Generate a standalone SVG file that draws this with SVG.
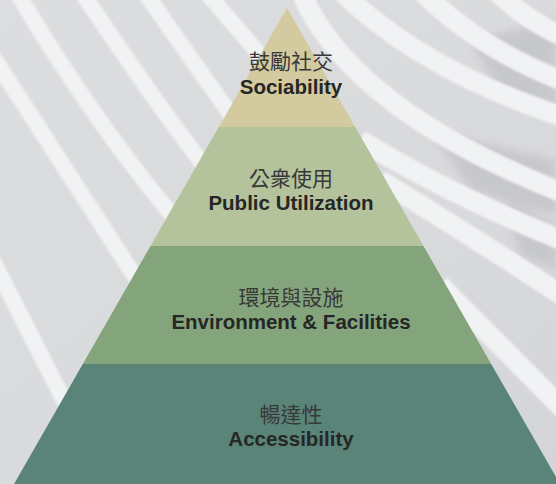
<svg xmlns="http://www.w3.org/2000/svg" width="556" height="484" viewBox="0 0 556 484">
  <defs>
    <linearGradient id="bg" x1="0" y1="0" x2="1" y2="1">
      <stop offset="0" stop-color="#dcdddf"/>
      <stop offset="0.6" stop-color="#d9dadc"/>
      <stop offset="1" stop-color="#d4d5d8"/>
    </linearGradient>
    <filter id="soft" x="-10%" y="-10%" width="120%" height="120%">
      <feGaussianBlur stdDeviation="1.2"/>
    </filter>
    <filter id="softer" x="-20%" y="-20%" width="140%" height="140%">
      <feGaussianBlur stdDeviation="4"/>
    </filter>
  </defs>
  <style>
    .stripe { fill: none; stroke: #f1f2f3; stroke-width: 16; stroke-linecap: butt; }
    .wide { stroke-width: 20; }
    .zh { font-family: "Noto Sans CJK TC", "Noto Sans CJK SC", sans-serif; font-size: 21px; fill: #383838; text-anchor: middle; }
    .en { font-family: "Liberation Sans", Arial, sans-serif; font-size: 20.5px; font-weight: bold; fill: #262626; text-anchor: middle; }
  </style>

  <g id="background">
    <rect x="0" y="0" width="556" height="484" fill="url(#bg)"/>
    <g filter="url(#softer)" fill="#c3c4c7" opacity="0.8">
      <path d="M470 40 L556 20 L556 110 L500 95 Z"/>
      <path d="M430 130 L556 160 L556 215 L470 190 Z"/>
      <path d="M505 200 L556 225 L556 270 L520 255 Z"/>
    </g>
    <g filter="url(#soft)">
      <path class="stripe" d="M-10 255 L80 432"/>
      <path class="stripe" d="M-10 52 L150 300"/>
      <path class="stripe" d="M10 -19 Q100 133.5 190 236"/>
      <path class="stripe" d="M75 -18 Q155 103 215 180"/>
      <path class="stripe" d="M138 -17 L245 135"/>
      <path class="stripe" d="M200 -15 L290 90"/>
      <path class="stripe wide" d="M300 -10 Q350 110 566 194"/>
      <path class="stripe wide" d="M340 -10 Q420 70 566 118"/>
      <path class="stripe wide" d="M420 -10 Q480 50 566 82"/>
      <path class="stripe wide" d="M495 -10 Q525 20 566 38"/>
      <path class="stripe wide" d="M360 140 Q450 195 566 242"/>
      <path class="stripe wide" d="M380 180 Q470 235 566 298"/>
      <path class="stripe wide" d="M440 285 L566 412"/>
    </g>
  </g>

  <g id="layer-sociability">
    <polygon points="287,8 355.2,127 218.8,127" fill="#d3cb9f"/>
    <text class="zh" x="291" y="68.5">鼓勵社交</text>
    <text class="en" x="291" y="94">Sociability</text>
  </g>

  <g id="layer-public-utilization">
    <polygon points="218.8,127 355.2,127 423.5,246 150.5,246" fill="#b4c39c"/>
    <text class="zh" x="291" y="186">公衆使用</text>
    <text class="en" x="291" y="210">Public Utilization</text>
  </g>

  <g id="layer-environment">
    <polygon points="150.5,246 423.5,246 491.2,364 82.8,364" fill="#84a57c"/>
    <text class="zh" x="291" y="305">環境與設施</text>
    <text class="en" x="291" y="329">Environment &amp; Facilities</text>
  </g>

  <g id="layer-accessibility">
    <polygon points="82.8,364 491.2,364 560,484 14,484" fill="#5b8478"/>
    <text class="zh" x="291" y="421.5">暢達性</text>
    <text class="en" x="291" y="446">Accessibility</text>
  </g>

  <g id="connectors"/>
</svg>
